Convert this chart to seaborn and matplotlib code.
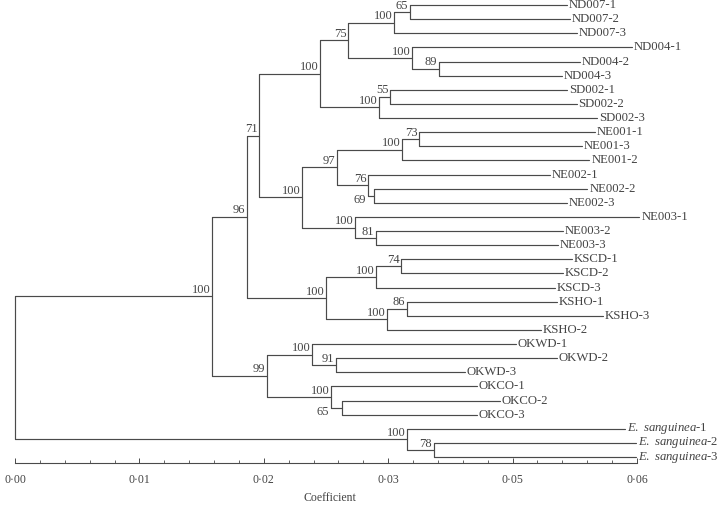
import matplotlib
matplotlib.use('Agg')
import matplotlib.pyplot as plt
import seaborn as sns
from matplotlib.ticker import MultipleLocator

# leaves in the order they appear, top to bottom, with the coefficient where each branch ends
leaf_names = ['ND007-1', 'ND007-2', 'ND007-3', 'ND004-1', 'ND004-2', 'ND004-3',
              'SD002-1', 'SD002-2', 'SD002-3', 'NE001-1', 'NE001-3', 'NE001-2',
              'NE002-1', 'NE002-2', 'NE002-3', 'NE003-1', 'NE003-2', 'NE003-3',
              'KSCD-1', 'KSCD-2', 'KSCD-3', 'KSHO-1', 'KSHO-3', 'KSHO-2',
              'OKWD-1', 'OKWD-2', 'OKWD-3', 'OKCO-1', 'OKCO-2', 'OKCO-3',
              'E. sanguinea-1', 'E. sanguinea-2', 'E. sanguinea-3']
leaf_x = [0.04434, 0.04458, 0.04514, 0.04956, 0.04538, 0.04394,
          0.04434, 0.04514, 0.04675, 0.04659, 0.04554, 0.04618,
          0.04297, 0.04602, 0.04434, 0.05020, 0.04402, 0.04361,
          0.04474, 0.04402, 0.04337, 0.04353, 0.04723, 0.04225,
          0.04024, 0.04353, 0.03614, 0.03711, 0.03896, 0.03711,
          0.04900, 0.04988, 0.04988]

# internal nodes, children before parents
node_names = ['n65a', 'nND007', 'n89', 'nND004', 'n75', 'n55', 'nSD', 'nTop',
              'n73', 'nNE001', 'n69', 'n76', 'n97', 'n81', 'nNE003', 'nNE', 'n71',
              'n74', 'nKSCD', 'n86', 'nKSHO', 'nKS', 'n96',
              'n91', 'nOKWD', 'n65b', 'nOKCO', 'n99', 'nIn',
              'n78', 'nE', 'root']
node_left = ['ND007-1', 'n65a', 'ND004-2', 'ND004-1', 'nND007', 'SD002-1', 'n55', 'n75',
             'NE001-1', 'n73', 'NE002-2', 'NE002-1', 'nNE001', 'NE003-2', 'NE003-1', 'n97', 'nTop',
             'KSCD-1', 'n74', 'KSHO-1', 'n86', 'nKSCD', 'n71',
             'OKWD-2', 'OKWD-1', 'OKCO-2', 'OKCO-1', 'nOKWD', 'n96',
             'E. sanguinea-2', 'E. sanguinea-1', 'nIn']
node_right = ['ND007-2', 'ND007-3', 'ND004-3', 'n89', 'nND004', 'SD002-2', 'SD002-3', 'nSD',
              'NE001-3', 'NE001-2', 'NE002-3', 'n69', 'n76', 'NE003-3', 'n81', 'nNE003', 'nNE',
              'KSCD-2', 'KSCD-3', 'KSHO-3', 'KSHO-2', 'nKSHO', 'nKS',
              'OKWD-3', 'n91', 'OKCO-3', 'n65b', 'nOKCO', 'n99',
              'E. sanguinea-3', 'n78', 'nE']
node_x = [0.03173, 0.03044, 0.03406, 0.03189, 0.02675, 0.03012, 0.02924, 0.02450,
          0.03245, 0.03108, 0.02884, 0.02835, 0.02586, 0.02900, 0.02731, 0.02305, 0.01960,
          0.03100, 0.02900, 0.03149, 0.02988, 0.02498, 0.01863,
          0.02578, 0.02386, 0.02627, 0.02538, 0.02024, 0.01582,
          0.03365, 0.03149, 0.0]
node_support = [65, 100, 89, 100, 75, 55, 100, 100,
                73, 100, 69, 76, 97, 81, 100, 100, 71,
                74, 100, 86, 100, 100, 96,
                91, 100, 65, 100, 99, 100,
                78, 100, None]
below_labels = ['n69', 'n65b']

tick_pos = [0.0, 0.01, 0.02, 0.03, 0.04, 0.05]
tick_labels = ['0·00', '0·01', '0·02', '0·03', '0·05', '0·06']

sns.set_style('white')
plt.rcParams['font.family'] = ['Liberation Serif', 'DejaVu Serif']
plt.rcParams['mathtext.fontset'] = 'custom'
plt.rcParams['mathtext.rm'] = 'Liberation Serif'
plt.rcParams['mathtext.it'] = 'Liberation Serif:italic'

line_col = '#4a4a4a'
text_col = '#444444'

fig = plt.figure(figsize=(7.2, 5.07), dpi=100)
ax = fig.add_axes([15 / 720, 44 / 507, 622 / 720, 463 / 507])

# positions of every element
xpos = dict(zip(leaf_names, leaf_x))
ypos = {name: i for i, name in enumerate(leaf_names)}
parent = {}
for name, l, r, x in zip(node_names, node_left, node_right, node_x):
    xpos[name] = x
    ypos[name] = (ypos[l] + ypos[r]) / 2
    parent[l] = name
    parent[r] = name

# branches
for name, l, r in zip(node_names, node_left, node_right):
    x = xpos[name]
    ax.plot([x, x], [ypos[l], ypos[r]], color=line_col, lw=0.85, clip_on=False)
    for c in (l, r):
        ax.plot([x, xpos[c]], [ypos[c], ypos[c]], color=line_col, lw=0.85, clip_on=False)

# leaf labels
for name in leaf_names:
    if name.startswith('E. sanguinea'):
        label = r'$\mathit{E.\ sanguinea}$' + name[len('E. sanguinea'):]
    else:
        label = name
    ax.annotate(label, (xpos[name], ypos[name]), xytext=(1.5, 0), textcoords='offset points',
                ha='left', va='center', fontsize=9.2, color=text_col, annotation_clip=False)

# bootstrap values
for name, s in zip(node_names, node_support):
    if s is None:
        continue
    if name in below_labels:
        ax.annotate(str(s), (xpos[parent[name]], ypos[name]), xytext=(-1, -3), textcoords='offset points',
                    ha='right', va='center', fontsize=9, color=text_col, annotation_clip=False)
    else:
        ax.annotate(str(s), (xpos[name], ypos[name]), xytext=(-1, 0.3), textcoords='offset points',
                    ha='right', va='bottom', fontsize=9, color=text_col, annotation_clip=False)

ax.set_xlim(0, 0.05)
ax.set_ylim(32.42, -0.354)
ax.set_yticks([])
ax.set_xticks(tick_pos)
ax.set_xticklabels(tick_labels, fontsize=8.5, color=text_col)
ax.xaxis.set_minor_locator(MultipleLocator(0.002))
ax.tick_params(axis='x', which='major', direction='in', length=3.5, width=0.7, color=line_col, pad=8, bottom=True)
ax.tick_params(axis='x', which='minor', direction='in', length=2, width=0.6, color=line_col, bottom=True)
for side in ['top', 'left', 'right']:
    ax.spines[side].set_visible(False)
ax.spines['bottom'].set_color(line_col)
ax.spines['bottom'].set_linewidth(0.8)
ax.patch.set_alpha(0)

fig.text(330 / 720, 1 - 498 / 507, 'Coefficient', ha='center', va='center', fontsize=8.5, color=text_col)

fig.savefig('out.png', dpi=100)
